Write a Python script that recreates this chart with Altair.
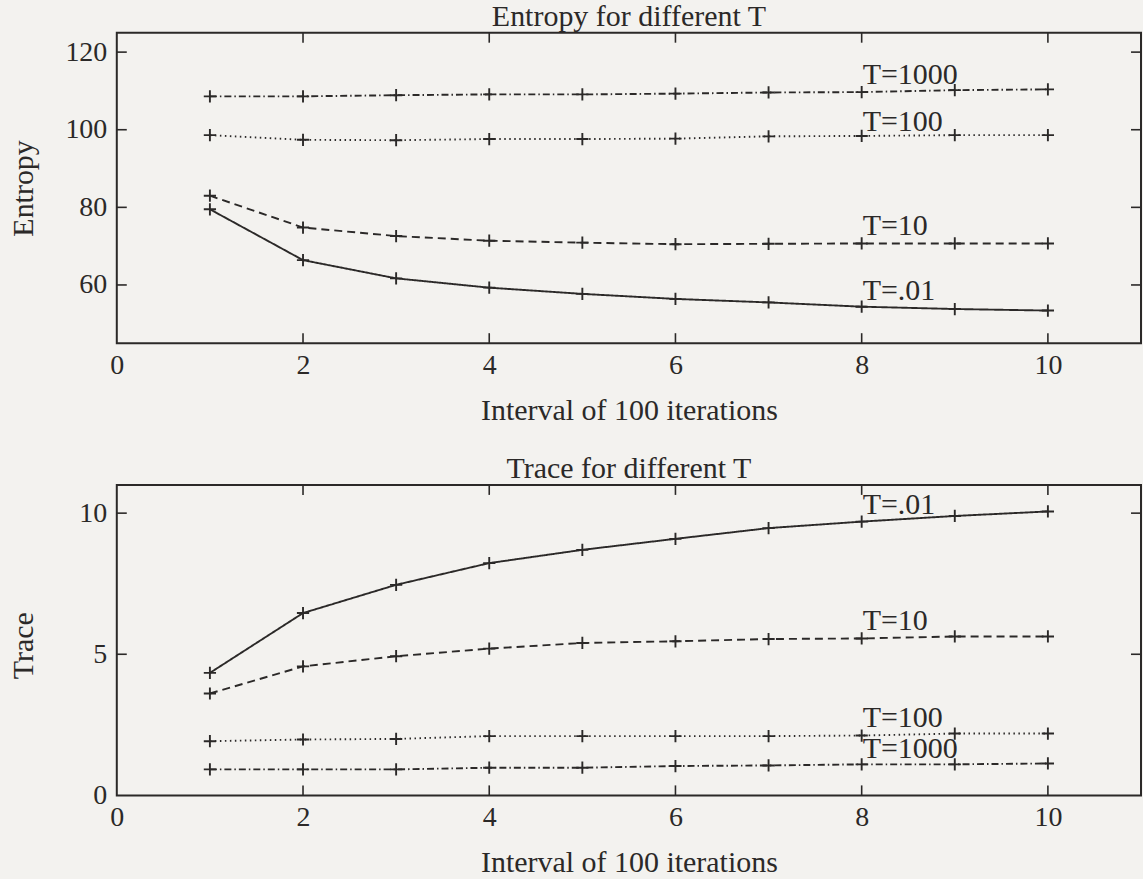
import altair as alt
import pandas as pd

# ---------------- data ----------------
intervals = [1, 2, 3, 4, 5, 6, 7, 8, 9, 10]
series_names = ["T=.01", "T=10", "T=100", "T=1000"]

entropy_t001 = [79.5, 66.4, 61.7, 59.3, 57.7, 56.4, 55.5, 54.4, 53.8, 53.4]
entropy_t10 = [83.0, 74.8, 72.6, 71.4, 70.9, 70.5, 70.6, 70.7, 70.7, 70.7]
entropy_t100 = [98.6, 97.4, 97.3, 97.6, 97.6, 97.7, 98.3, 98.4, 98.6, 98.6]
entropy_t1000 = [108.6, 108.6, 108.9, 109.1, 109.1, 109.3, 109.6, 109.7, 110.2, 110.4]

trace_t001 = [4.34, 6.46, 7.46, 8.23, 8.70, 9.09, 9.47, 9.70, 9.90, 10.06]
trace_t10 = [3.61, 4.57, 4.93, 5.20, 5.40, 5.46, 5.54, 5.56, 5.63, 5.63]
trace_t100 = [1.92, 1.98, 2.00, 2.10, 2.10, 2.10, 2.10, 2.12, 2.19, 2.19]
trace_t1000 = [0.92, 0.92, 0.92, 0.98, 0.98, 1.04, 1.06, 1.10, 1.10, 1.13]

entropy_label_y = [56.1, 72.8, 99.8, 111.9]
trace_label_y = [9.97, 5.87, 2.44, 1.34]
label_x = [8, 8, 8, 8]

x_tick_labels = [0, 2, 4, 6, 8, 10]
x_inner_ticks = [2, 4, 6, 8, 10]
entropy_ticks = [60, 80, 100, 120]
trace_ticks = [0, 5, 10]

x_domain = [0, 11]
entropy_domain = [45, 125]
trace_domain = [0, 11]

# ---------------- styling ----------------
INK = "#2b2928"
BG = "#f3f2ef"
FONT = "Liberation Serif"
W = 1026
H = 311
dash_range = [[1, 0], [8, 5], [1.5, 3.5], [7, 3, 1.5, 3]]
plus_path = "M-1,0L1,0M0,-1L0,1"


def panel(values, label_y, ydom, yticks, ytitle, title, title_y):
    rows = []
    for name, vals in zip(series_names, values):
        for x, v in zip(intervals, vals):
            rows.append({"interval": x, "value": v, "series": name})
    df = pd.DataFrame(rows)
    lab = pd.DataFrame({"x": label_x, "y": label_y, "series": series_names})
    xt = pd.DataFrame({"t": x_inner_ticks})
    yt = pd.DataFrame({"v": [v for v in yticks if ydom[0] < v < ydom[1]]})

    xscale = alt.Scale(domain=x_domain, nice=False, zero=False)
    yscale = alt.Scale(domain=ydom, nice=False, zero=False)

    base = alt.Chart(df)
    lines = base.mark_line(color=INK, strokeWidth=1.9).encode(
        x=alt.X("interval:Q", scale=xscale, title="Interval of 100 iterations",
                axis=alt.Axis(values=x_tick_labels, format="d", ticks=False, domain=False,
                              grid=False, labelFont=FONT, labelFontSize=28, labelColor=INK,
                              labelPadding=8, titleFont=FONT, titleFontSize=30,
                              titleFontWeight="normal", titleColor=INK, titlePadding=16,
                              labelFlush=False)),
        y=alt.Y("value:Q", scale=yscale, title=ytitle,
                axis=alt.Axis(values=yticks, format="d", ticks=False, domain=False, grid=False,
                              labelFont=FONT, labelFontSize=28, labelColor=INK,
                              labelPadding=10, titleFont=FONT, titleFontSize=30,
                              titleFontWeight="normal", titleColor=INK,
                              titleX=-93, titleY=title_y, titleAlign="center",
                              titleBaseline="middle", labelFlush=False)),
        strokeDash=alt.StrokeDash("series:N", scale=alt.Scale(domain=series_names, range=dash_range),
                                  legend=None),
        detail="series:N",
    )
    pts = base.mark_point(shape=plus_path, filled=False, color=INK, size=150, strokeWidth=1.9,
                          opacity=1).encode(
        x=alt.X("interval:Q", scale=xscale),
        y=alt.Y("value:Q", scale=yscale),
    )
    texts = alt.Chart(lab).mark_text(font=FONT, fontSize=30, color=INK, align="left",
                                     baseline="alphabetic", dx=1).encode(
        x=alt.X("x:Q", scale=xscale),
        y=alt.Y("y:Q", scale=yscale),
        text="series:N",
    )
    tb = alt.Chart(xt).mark_rule(color=INK, strokeWidth=1.6).encode(
        x=alt.X("t:Q", scale=xscale), y=alt.value(H), y2=alt.value(H - 10))
    tt = alt.Chart(xt).mark_rule(color=INK, strokeWidth=1.6).encode(
        x=alt.X("t:Q", scale=xscale), y=alt.value(0), y2=alt.value(10))
    tl = alt.Chart(yt).mark_rule(color=INK, strokeWidth=1.6).encode(
        y=alt.Y("v:Q", scale=yscale), x=alt.value(0), x2=alt.value(10))
    tr = alt.Chart(yt).mark_rule(color=INK, strokeWidth=1.6).encode(
        y=alt.Y("v:Q", scale=yscale), x=alt.value(W - 10), x2=alt.value(W))

    return alt.layer(lines, pts, texts, tb, tt, tl, tr).properties(
        width=W, height=H,
        title=alt.TitleParams(title, font=FONT, fontSize=30, fontWeight="normal", color=INK,
                              anchor="middle", baseline="bottom", offset=-30),
    )


top = panel([entropy_t001, entropy_t10, entropy_t100, entropy_t1000], entropy_label_y,
            entropy_domain, entropy_ticks, "Entropy", "Entropy for different T", H / 2)
bottom = panel([trace_t001, trace_t10, trace_t100, trace_t1000], trace_label_y,
               trace_domain, trace_ticks, "Trace", "Trace for different T", H / 2 + 5)

chart = alt.vconcat(top, bottom, spacing=27).properties(
    background=BG,
    padding={"left": 8, "top": 0, "right": 0, "bottom": 0},
).configure_view(stroke=INK, strokeWidth=2).configure_concat(spacing=27)

chart.save("out.html", embed_options={"renderer": "svg", "actions": False})
